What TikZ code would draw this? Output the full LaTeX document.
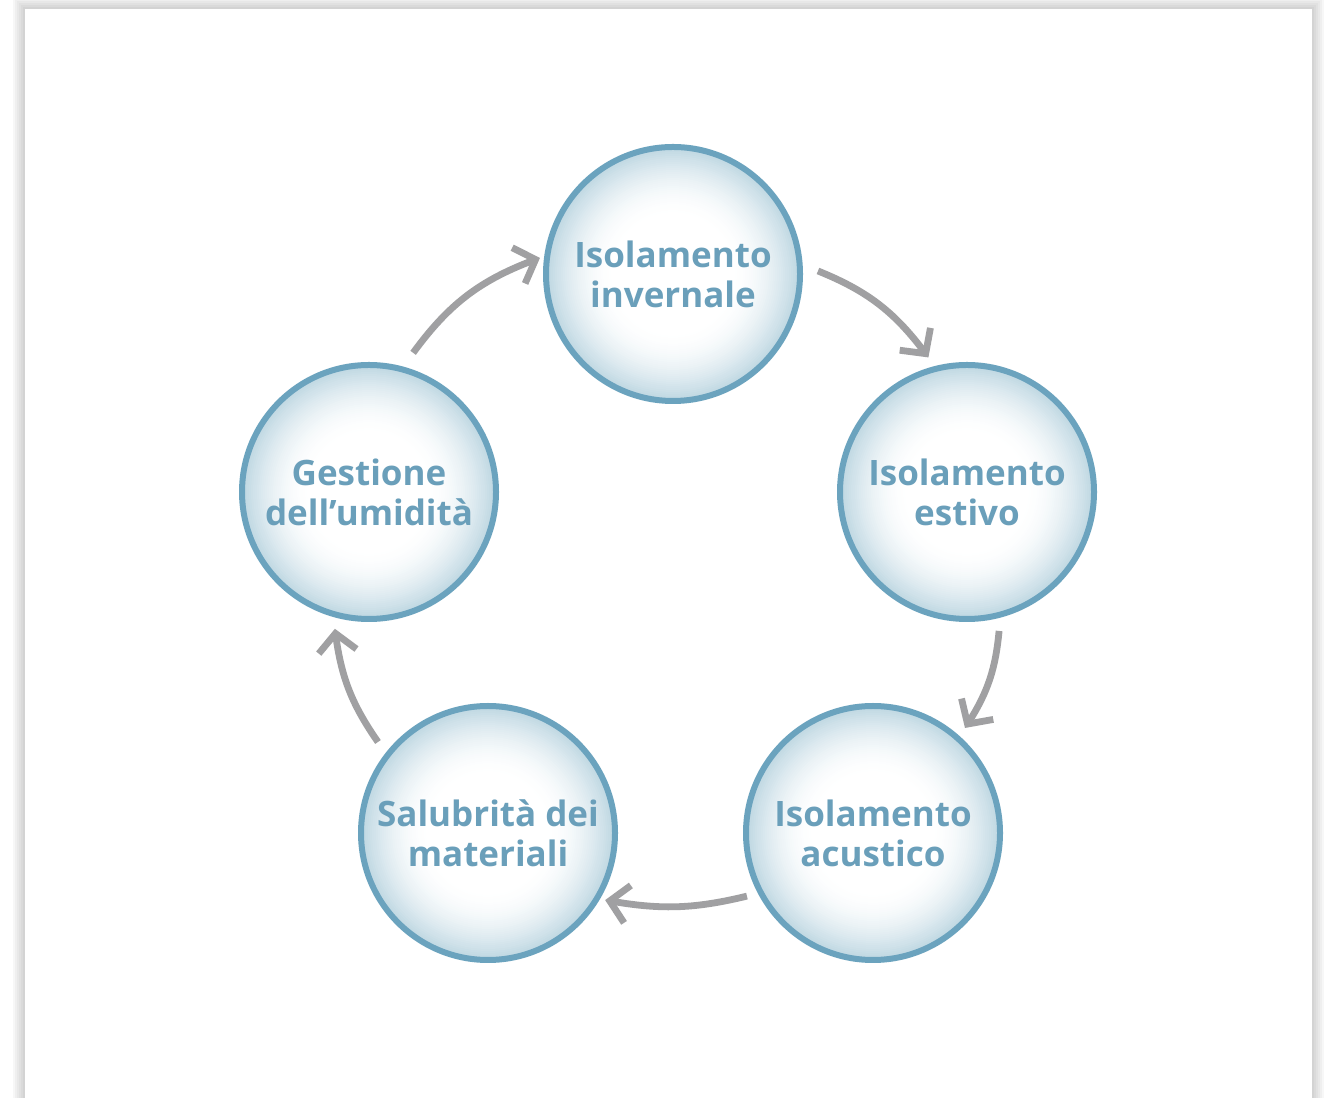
\documentclass[tikz,border=0pt]{standalone}
\usepackage{fontspec}
\setmainfont{Open Sans}[Ligatures={NoCommon}]
\usetikzlibrary{arrows.meta,calc,bending}
\definecolor{ring}{RGB}{107,163,190}
\definecolor{txt}{RGB}{106,159,186}
\definecolor{arrowgrey}{RGB}{160,160,162}
\definecolor{bubedge}{RGB}{184,211,223}
\tikzset{
  bubblenode/.style={circle, draw=ring, line width=6pt, minimum size=254pt, inner sep=0pt,
    fill=white, text=txt, font=\fontsize{35}{40}\selectfont\bfseries, align=center,
    path picture={
      \foreach \r in {130,128,...,60}{
        \pgfmathsetmacro\p{100*((\r-60)/70)^1.8}
        \fill[bubedge!\p!white] (path picture bounding box.center) circle[radius=\r];
      }
    }},
  cyclearrow/.style={draw=arrowgrey, line width=6.8pt, -{Straight Barb[length=18pt,width=38pt]}},
}
\begin{document}
\begin{tikzpicture}[x=1pt,y=1pt]
\useasboundingbox (0,0) rectangle (1332,1097);
% panel with soft shadow
\foreach \i in {12,10,8,6,4,2}
  \fill[black,opacity=0.03] ({25-\i},-20) rectangle ({1312+\i},{1088+\i});
\fill[white] (25,-20) rectangle (1312,1088);
% bubbles
\node[bubblenode] (top) at (673,823) {Isolamento\\invernale};
\node[bubblenode] (right) at (967,605) {Isolamento\\estivo};
\node[bubblenode] (br) at (873,264) {Isolamento\\acustico};
\node[bubblenode] (bl) at (488,264) {Salubrità dei\\materiali};
\node[bubblenode] (left) at (369,605) {Gestione\\dell’umidità};
% arrow ends
\coordinate (s1) at ($(top)+(1.2:145)$);
\coordinate (e1) at ($(right)+(106:140)$);
\coordinate (s2) at ($(right)+(-77:142.6)$);
\coordinate (e2) at ($(br)+(48.8:139.6)$);
\coordinate (s3) at ($(br)+(206.6:141)$);
\coordinate (e3) at ($(bl)+(-29.8:135)$);
\coordinate (s4) at ($(bl)+(140.4:142.8)$);
\coordinate (e4) at ($(left)+(256:141)$);
\coordinate (s5) at ($(left)+(72.4:146)$);
\coordinate (e5) at ($(top)+(173.1:134)$);
\draw[cyclearrow] (s1) to[bend left=16] (e1);
\draw[cyclearrow] (s2) to[bend left=14] (e2);
\draw[cyclearrow] (s3) to[bend left=12] (e3);
\draw[cyclearrow] (s4) to[bend left=14] (e4);
\draw[cyclearrow] (s5) to[bend left=17] (e5);
\end{tikzpicture}
\end{document}
